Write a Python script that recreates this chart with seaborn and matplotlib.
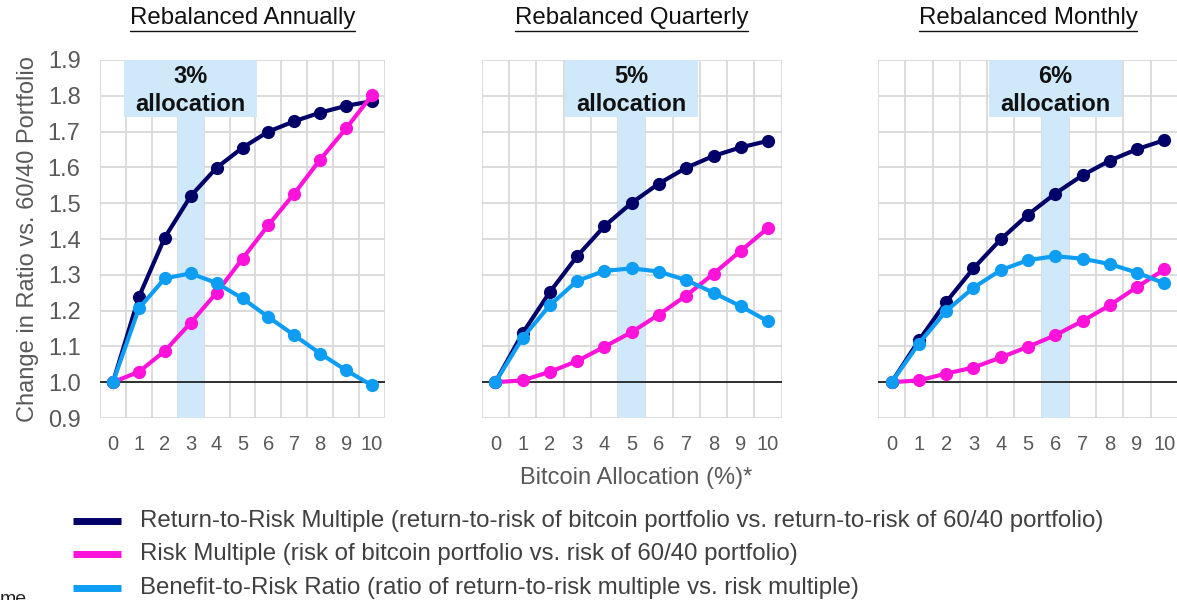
import matplotlib
matplotlib.use("Agg")
import matplotlib.pyplot as plt
from matplotlib.lines import Line2D
from matplotlib.patches import Rectangle
import numpy as np
import pandas as pd
import seaborn as sns

# ---- data -------------------------------------------------------------
allocation = list(range(11))  # bitcoin allocation, %

annual_return_to_risk = [1.000, 1.238, 1.404, 1.520, 1.599, 1.655, 1.700, 1.729, 1.753, 1.772, 1.785]
annual_risk = [1.000, 1.029, 1.087, 1.166, 1.250, 1.345, 1.439, 1.527, 1.622, 1.709, 1.802]
annual_benefit = [1.000, 1.206, 1.290, 1.304, 1.277, 1.234, 1.182, 1.131, 1.080, 1.033, 0.991]

quarterly_return_to_risk = [1.000, 1.137, 1.252, 1.352, 1.436, 1.501, 1.555, 1.599, 1.632, 1.656, 1.674]
quarterly_risk = [1.000, 1.005, 1.029, 1.059, 1.099, 1.140, 1.189, 1.242, 1.303, 1.367, 1.431]
quarterly_benefit = [1.000, 1.124, 1.215, 1.283, 1.311, 1.318, 1.309, 1.285, 1.250, 1.212, 1.170]

monthly_return_to_risk = [1.000, 1.117, 1.224, 1.318, 1.399, 1.468, 1.527, 1.578, 1.619, 1.651, 1.676]
monthly_risk = [1.000, 1.005, 1.024, 1.041, 1.069, 1.099, 1.131, 1.171, 1.215, 1.266, 1.315]
monthly_benefit = [1.000, 1.108, 1.199, 1.264, 1.313, 1.341, 1.352, 1.345, 1.330, 1.306, 1.276]

panel_titles = ["Rebalanced Annually", "Rebalanced Quarterly", "Rebalanced Monthly"]
optimal_allocation = [3, 5, 6]

series_names = [
    "Return-to-Risk Multiple",
    "Risk Multiple",
    "Benefit-to-Risk Ratio",
]
legend_labels = [
    "Return-to-Risk Multiple (return-to-risk of bitcoin portfolio vs. return-to-risk of 60/40 portfolio)",
    "Risk Multiple (risk of bitcoin portfolio vs. risk of 60/40 portfolio)",
    "Benefit-to-Risk Ratio (ratio of return-to-risk multiple vs. risk multiple)",
]
y_ticks = [0.9, 1.0, 1.1, 1.2, 1.3, 1.4, 1.5, 1.6, 1.7, 1.8, 1.9]

panel_series = [
    (annual_return_to_risk, annual_risk, annual_benefit),
    (quarterly_return_to_risk, quarterly_risk, quarterly_benefit),
    (monthly_return_to_risk, monthly_risk, monthly_benefit),
]

# ---- style ------------------------------------------------------------
NAVY = "#000068"
PINK = "#ff12d9"
SKY = "#0d9df2"
BAND = "#cfe8fa"
GRID = "#d9d9d9"
TEXT_GRAY = "#595959"
palette = dict(zip(series_names, [NAVY, PINK, SKY]))

sns.set_theme(style="white")
plt.rcParams["font.family"] = ["Liberation Sans", "DejaVu Sans"]

W, H = 1177, 600
fig = plt.figure(figsize=(W / 100, H / 100), dpi=100)

# axes boxes in pixels: (left, width)
boxes = [(100, 285), (481.7, 300), (878, 300)]
ax_bottom, ax_top = 418, 60

for i, (left, width) in enumerate(boxes):
    ax = fig.add_axes([left / W, 1 - ax_bottom / H, width / W, (ax_bottom - ax_top) / H])

    df = pd.DataFrame({
        "allocation": allocation * 3,
        "value": list(panel_series[i][0]) + list(panel_series[i][1]) + list(panel_series[i][2]),
        "series": sum([[name] * len(allocation) for name in series_names], []),
    })

    ax.set_xlim(-0.5, 10.5)
    ax.set_ylim(0.9, 1.9)

    # grid: vertical lines between categories, horizontal every 0.1
    for xv in np.arange(-0.5, 11, 1.0):
        ax.axvline(xv, color=GRID, lw=1.3, zorder=0)
    for yv in y_ticks:
        ax.axhline(yv, color=GRID, lw=1.3, zorder=0)

    # highlighted allocation column and label box
    alloc = optimal_allocation[i]
    box_bottom = 1.741
    ax.add_patch(Rectangle((alloc - 0.5, 0.9), 1.0, box_bottom - 0.9,
                           facecolor=BAND, edgecolor="none", zorder=1))
    units_per_px = 11.0 / width
    box_w = 133 * units_per_px
    ax.add_patch(Rectangle((alloc - box_w / 2, box_bottom), box_w, 1.9 - box_bottom,
                           facecolor=BAND, edgecolor="none", zorder=1))
    ax.text(alloc, (box_bottom + 1.9) / 2 - 0.005, f"{alloc}%\nallocation", ha="center", va="center",
            fontsize=17, fontweight="bold", color="#111111", linespacing=1.25, zorder=5)

    ax.axhline(1.0, color="black", lw=1.1, zorder=2)

    sns.lineplot(data=df, x="allocation", y="value", hue="series", hue_order=series_names,
                 palette=palette, marker="o", markersize=9.5, markeredgewidth=0,
                 linewidth=3, legend=False, sort=False, ax=ax, zorder=3)

    for s in ax.spines.values():
        s.set_visible(False)
    ax.set_xlabel("")
    ax.set_ylabel("")
    ax.set_xticks(allocation)
    ax.set_xticklabels([str(a) for a in allocation], fontsize=14.5, color=TEXT_GRAY)
    ax.tick_params(axis="x", length=0, pad=12)
    ax.set_yticks(y_ticks)
    if i == 0:
        ax.set_yticklabels([f"{v:.1f}" for v in y_ticks], fontsize=17, color=TEXT_GRAY)
        ax.tick_params(axis="y", length=0, pad=14)
        ax.set_ylabel("Change in Ratio vs. 60/40 Portfolio", fontsize=17, color=TEXT_GRAY, labelpad=6)
    else:
        ax.set_yticklabels([])
        ax.tick_params(axis="y", length=0)

# panel titles, underlined
renderer = fig.canvas.get_renderer()
for i, (left, width) in enumerate(boxes):
    cx = (left + width / 2) / W
    t = fig.text(cx, 1 - 18 / H, panel_titles[i], ha="center", va="center",
                 fontsize=17.3, color="#111111")
    bb = t.get_window_extent(renderer=renderer)
    y_line = 1 - 31 / H
    fig.add_artist(Line2D([bb.x0 / W, bb.x1 / W], [y_line, y_line],
                          transform=fig.transFigure, color="#111111", lw=1.0))

fig.text(636 / W, 1 - 478 / H, "Bitcoin Allocation (%)*", ha="center", va="center",
         fontsize=17, color=TEXT_GRAY)

# legend: colour swatch + description per series
legend_rows_px = [521, 554, 588]
for color, label, y_px in zip((NAVY, PINK, SKY), legend_labels, legend_rows_px):
    yf = 1 - y_px / H
    fig.add_artist(Line2D([73 / W, 121 / W], [yf, yf], transform=fig.transFigure,
                          color=color, lw=5, solid_capstyle="butt"))
    fig.text(140 / W, yf, label, ha="left", va="center", fontsize=17.3, color="#404040")

# cut-off footnote fragment at the bottom edge
fig.text(0.0, 1 - 591 / H, "me", ha="left", va="top", fontsize=14, color="#222222")

fig.savefig("out.png", dpi=100)
